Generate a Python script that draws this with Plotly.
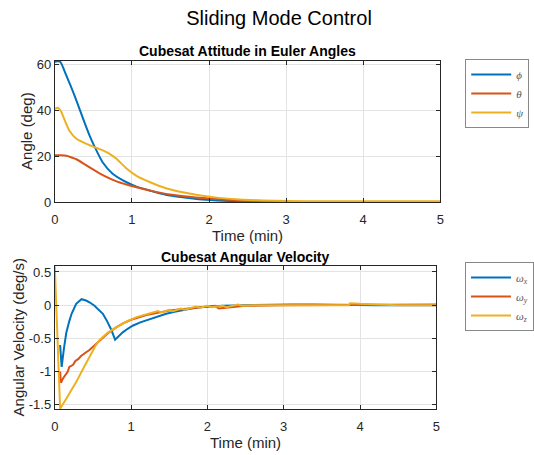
import plotly.graph_objects as go

# ---------------- data ----------------
t_phi = [0, 0.03, 0.07, 0.15, 0.26, 0.37, 0.45, 0.52, 0.62, 0.75, 0.93, 1.06, 1.23, 1.44, 1.66, 1.87, 2.1, 2.4, 2.7, 3.0, 3.5, 4.0, 4.5, 5.0]
phi = [61, 61.3, 61, 55, 46, 36, 29, 23.8, 17.3, 12.3, 8.6, 6.7, 5.0, 3.2, 2.1, 1.2, 0.7, 0.3, 0.1, 0.0, -0.1, -0.1, -0.1, -0.1]

t_theta = [0, 0.08, 0.15, 0.2, 0.28, 0.41, 0.58, 0.8, 1.06, 1.31, 1.57, 1.83, 2.1, 2.4, 2.7, 3.0, 3.5, 4.0, 4.5, 5.0]
theta = [20.3, 20.3, 20.1, 19.6, 18.6, 15.9, 12.5, 9.0, 6.4, 4.4, 2.9, 2.0, 1.3, 0.7, 0.2, -0.1, -0.3, -0.3, -0.3, -0.3]

t_psi = [0, 0.04, 0.08, 0.13, 0.19, 0.28, 0.41, 0.52, 0.6, 0.67, 0.74, 0.8, 0.93, 1.06, 1.23, 1.44, 1.66, 1.87, 2.1, 2.4, 2.7, 3.0, 3.5, 4.0, 4.5, 5.0]
psi = [40.5, 41, 39.5, 35.5, 31, 27.5, 25.3, 23.8, 22.8, 21.7, 20.3, 18.8, 14.6, 11.4, 8.7, 6.0, 4.2, 2.9, 1.9, 1.1, 0.7, 0.4, 0.3, 0.3, 0.3, 0.3]

t_wx = [0.07, 0.09, 0.12, 0.15, 0.19, 0.22, 0.28, 0.35, 0.41, 0.46, 0.52, 0.57, 0.63, 0.68, 0.74, 0.79, 0.84, 0.89, 0.95, 1.02, 1.12, 1.24, 1.35, 1.46, 1.57, 1.68, 1.79, 1.9, 2.0, 2.2, 2.5, 2.8, 3.1, 3.4, 3.8, 4.2, 4.6, 5.0]
wx = [-0.6, -0.93, -0.65, -0.42, -0.24, -0.13, 0.02, 0.09, 0.07, 0.04, -0.01, -0.06, -0.13, -0.23, -0.37, -0.52, -0.46, -0.41, -0.36, -0.31, -0.26, -0.21, -0.17, -0.13, -0.1, -0.07, -0.05, -0.03, -0.02, -0.01, 0.0, 0.01, 0.01, 0.01, 0.0, 0.0, 0.0, 0.0]

t_wy = [0.07, 0.08, 0.11, 0.14, 0.17, 0.19, 0.24, 0.27, 0.31, 0.34, 0.37, 0.41, 0.45, 0.5, 0.55, 0.61, 0.7, 0.8, 0.9, 1.0, 1.2, 1.5, 1.8, 2.0, 2.1, 2.15, 2.3, 2.5, 3.0, 3.5, 4.0, 4.5, 5.0]
wy = [-1.0, -1.17, -1.1, -1.05, -1.0, -0.93, -0.9, -0.84, -0.81, -0.77, -0.74, -0.71, -0.68, -0.63, -0.57, -0.51, -0.42, -0.34, -0.27, -0.22, -0.15, -0.08, -0.04, -0.02, -0.01, -0.05, -0.03, -0.01, 0.0, 0.0, 0.01, 0.01, 0.01]

t_wz = [0, 0.07, 0.15, 0.28, 0.38, 0.46, 0.53, 0.59, 0.7, 0.81, 0.95, 1.07, 1.25, 1.35, 1.4, 1.5, 1.55, 1.65, 1.7, 1.85, 1.9, 2.0, 2.05, 2.2, 2.25, 2.4, 2.45, 2.6, 3.0, 3.5, 3.85, 3.87, 4.0, 4.5, 5.0]
wz = [0.585, -1.56, -1.41, -1.16, -0.94, -0.76, -0.62, -0.52, -0.41, -0.33, -0.24, -0.18, -0.12, -0.09, -0.11, -0.07, -0.09, -0.05, -0.07, -0.02, -0.04, -0.01, -0.03, -0.01, -0.03, 0.01, -0.01, 0.0, 0.0, 0.0, 0.0, 0.03, 0.02, 0.0, 0.0]

x_ticks = [0, 1, 2, 3, 4, 5]
angle_ticks = [0, 20, 40, 60]
rate_ticks = [-1.5, -1, -0.5, 0, 0.5]
angle_names = ["ϕ", "θ", "ψ"]
rate_names = ["ω<sub>x</sub>", "ω<sub>y</sub>", "ω<sub>z</sub>"]

BLUE, RED, YEL = "#0072BD", "#D95319", "#EDB120"
W, H = 534, 455
FONT = "Liberation Sans, Arial, Helvetica, sans-serif"
DARK = "#262626"

fig = go.Figure()
sym = dict(family="Liberation Serif, Times New Roman, serif", size=11, color="#555555", style="italic")
smooth = dict(width=2, shape="spline", smoothing=0.6)

for tt, yy, c, nm in [(t_phi, phi, BLUE, angle_names[0]),
                      (t_theta, theta, RED, angle_names[1]),
                      (t_psi, psi, YEL, angle_names[2])]:
    fig.add_trace(go.Scatter(x=tt, y=yy, mode="lines", line=dict(color=c, **smooth),
                             name=nm, xaxis="x", yaxis="y", legend="legend"))

for tt, yy, c, nm in [(t_wx, wx, BLUE, rate_names[0]),
                      (t_wy, wy, RED, rate_names[1]),
                      (t_wz, wz, YEL, rate_names[2])]:
    fig.add_trace(go.Scatter(x=tt, y=yy, mode="lines", line=dict(color=c, width=2),
                             name=nm, xaxis="x2", yaxis="y2", legend="legend2"))

def px_x(p):
    return p / W

def px_y(p):
    return 1 - p / H

axis_common = dict(showline=True, linecolor=DARK, linewidth=1, mirror="ticks",
                   ticks="inside", ticklen=4, tickcolor=DARK, showgrid=True,
                   gridcolor="#e3e3e3", gridwidth=1, zeroline=False, automargin=False,
                   tickfont=dict(family=FONT, size=13, color=DARK))
title_font = dict(family=FONT, size=15, color=DARK)

fig.update_layout(
    width=W, height=H,
    margin=dict(l=0, r=0, t=0, b=0),
    paper_bgcolor="white", plot_bgcolor="white",
    font=dict(family=FONT, color=DARK, size=13),
    title=dict(text="Sliding Mode Control", x=px_x(279), xanchor="center",
               y=px_y(18), yanchor="middle", font=dict(family=FONT, size=20, color="black")),
    xaxis=dict(domain=[px_x(55), px_x(442)], range=[0, 5], tickvals=x_ticks, anchor="y",
               ticklabelstandoff=5, title=dict(text="Time (min)", font=title_font, standoff=2),
               **axis_common),
    yaxis=dict(domain=[px_y(202), px_y(60.7)], range=[0, 61.5], tickvals=angle_ticks, anchor="x",
               ticklabelstandoff=0, **axis_common),
    xaxis2=dict(domain=[px_x(55), px_x(438)], range=[0, 5], tickvals=x_ticks, anchor="y2",
                ticklabelstandoff=5, title=dict(text="Time (min)", font=title_font, standoff=2),
                **axis_common),
    yaxis2=dict(domain=[px_y(409), px_y(266)], range=[-1.565, 0.59], tickvals=rate_ticks,
                ticktext=["-1.5", "-1", "-0.5", "0", "0.5"], anchor="x2",
                ticklabelstandoff=0, **axis_common),
    legend=dict(x=px_x(467), y=px_y(59), xanchor="left", yanchor="top",
                bordercolor="#888888", borderwidth=1, bgcolor="white", font=sym,
                itemwidth=40, tracegroupgap=0),
    legend2=dict(x=px_x(467), y=px_y(262), xanchor="left", yanchor="top",
                 bordercolor="#888888", borderwidth=1, bgcolor="white", font=sym,
                 itemwidth=40, tracegroupgap=0),
    showlegend=True,
)

ann = []
ann.append(dict(text="<b>Cubesat Attitude in Euler Angles</b>", x=px_x(248.5), y=px_y(51),
                font=dict(family=FONT, size=14, color="black")))
ann.append(dict(text="<b>Cubesat Angular Velocity</b>", x=px_x(246.5), y=px_y(257),
                font=dict(family=FONT, size=14, color="black")))
ann.append(dict(text="Angle (deg)", x=px_x(26), y=px_y(131), textangle=-90, font=title_font))
ann.append(dict(text="Angular Velocity (deg/s)", x=px_x(19), y=px_y(337.5), textangle=-90,
                font=title_font))
for a in ann:
    a.update(xref="paper", yref="paper", xanchor="center", yanchor="middle", showarrow=False)
fig.update_layout(annotations=ann)

fig.write_html("out.html")
